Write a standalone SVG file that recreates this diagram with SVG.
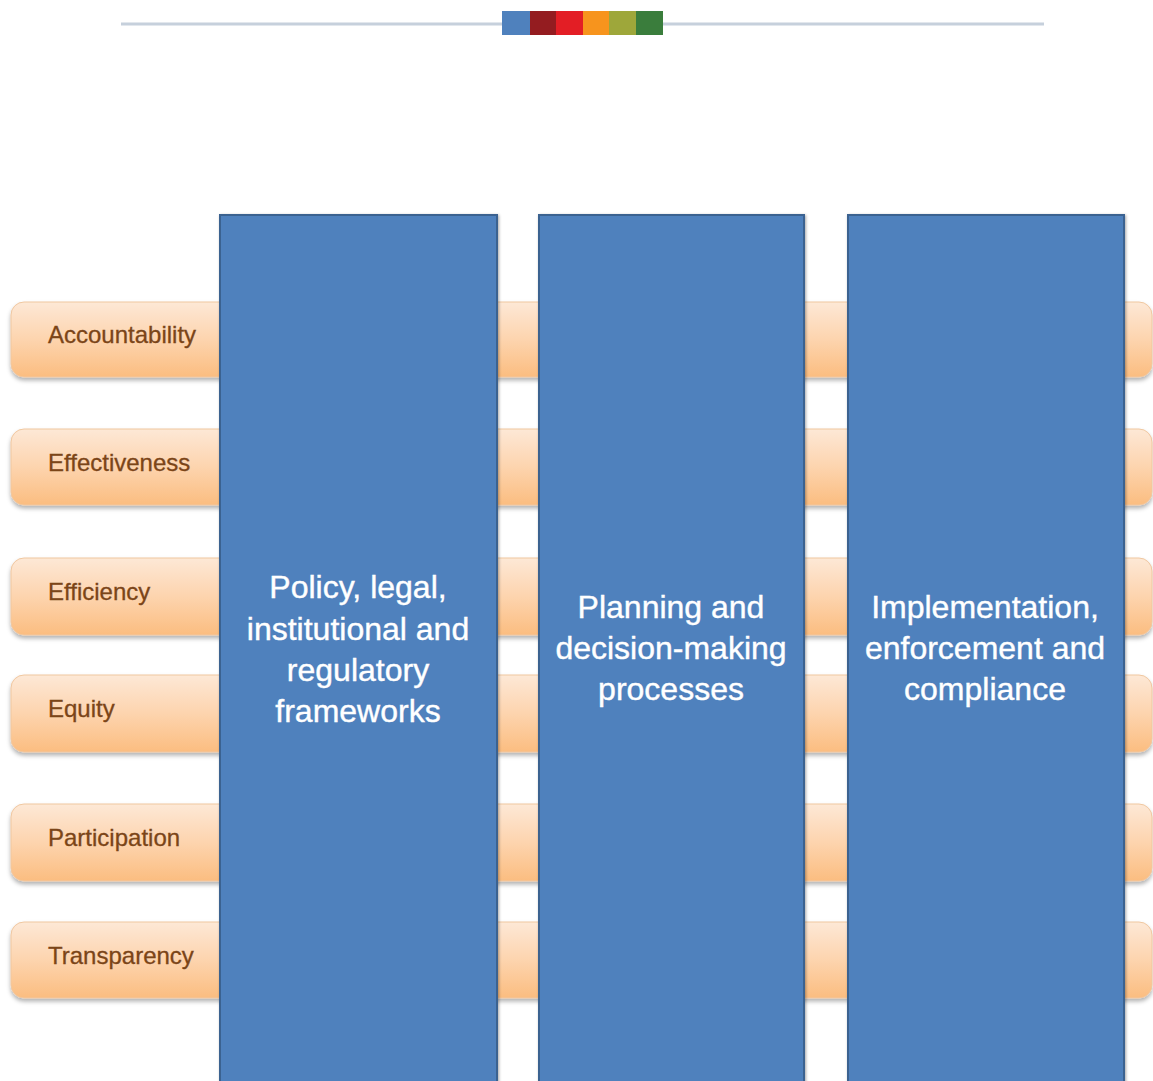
<svg xmlns="http://www.w3.org/2000/svg" width="1153" height="1081" viewBox="0 0 1153 1081">
<defs>
<linearGradient id="peach" x1="0" y1="0" x2="0" y2="1">
<stop offset="0" stop-color="#fde8d6"/>
<stop offset="0.5" stop-color="#fdd4ae"/>
<stop offset="1" stop-color="#fbbd80"/>
</linearGradient>
<filter id="sh" x="-5%" y="-20%" width="110%" height="150%">
<feGaussianBlur in="SourceAlpha" stdDeviation="2"/>
<feOffset dy="3" result="b"/>
<feFlood flood-color="#000" flood-opacity="0.3"/>
<feComposite in2="b" operator="in"/>
<feMerge><feMergeNode/><feMergeNode in="SourceGraphic"/></feMerge>
</filter>
<filter id="csh" x="-10%" y="-5%" width="120%" height="110%">
<feGaussianBlur in="SourceAlpha" stdDeviation="1.5"/>
<feOffset dx="1" dy="1" result="b"/>
<feFlood flood-color="#000" flood-opacity="0.35"/>
<feComposite in2="b" operator="in"/>
<feMerge><feMergeNode/><feMergeNode in="SourceGraphic"/></feMerge>
</filter>
</defs>
<style>
.band{fill:url(#peach);stroke:#f0c7a0;stroke-width:1;filter:url(#sh)}
.blab{font-family:"Liberation Sans",Arial,sans-serif;font-size:24px;fill:#7b4518;stroke:#7b4518;stroke-width:0.3}
.col{fill:#4f81bd;stroke:#3b6290;stroke-width:2;filter:url(#csh)}
.ctxt{font-family:"Liberation Sans",Arial,sans-serif;font-size:32px;fill:#ffffff;stroke:#ffffff;stroke-width:0.4;text-anchor:middle}
</style>
<rect width="1153" height="1081" fill="#ffffff"/>
<g id="header">
<line x1="121" y1="24" x2="1044" y2="24" stroke="#c6d0dc" stroke-width="3"/>
<rect x="502" y="11" width="28" height="24" fill="#4f81bd"/>
<rect x="530" y="11" width="26" height="24" fill="#941c20"/>
<rect x="556" y="11" width="27" height="24" fill="#e31e25"/>
<rect x="583" y="11" width="26" height="24" fill="#f7941d"/>
<rect x="609" y="11" width="27" height="24" fill="#9ea73a"/>
<rect x="636" y="11" width="27" height="24" fill="#3a7d3c"/>
</g>
<g id="band-accountability"><rect class="band" x="11" y="302" width="1141" height="75" rx="13"/><text class="blab" x="48" y="343">Accountability</text></g>
<g id="band-effectiveness"><rect class="band" x="11" y="429" width="1141" height="76" rx="13"/><text class="blab" x="48" y="471">Effectiveness</text></g>
<g id="band-efficiency"><rect class="band" x="11" y="558" width="1141" height="77" rx="13"/><text class="blab" x="48" y="600">Efficiency</text></g>
<g id="band-equity"><rect class="band" x="11" y="675" width="1141" height="77" rx="13"/><text class="blab" x="48" y="717">Equity</text></g>
<g id="band-participation"><rect class="band" x="11" y="804" width="1141" height="77" rx="13"/><text class="blab" x="48" y="846">Participation</text></g>
<g id="band-transparency"><rect class="band" x="11" y="922" width="1141" height="76" rx="13"/><text class="blab" x="48" y="964">Transparency</text></g>
<g id="col-policy"><rect class="col" x="220" y="215" width="277" height="880"/>
<text class="ctxt"><tspan x="358" y="598">Policy, legal,</tspan><tspan x="358" y="640">institutional and</tspan><tspan x="358" y="681">regulatory</tspan><tspan x="358" y="722">frameworks</tspan></text></g>
<g id="col-planning"><rect class="col" x="539" y="215" width="265" height="880"/>
<text class="ctxt"><tspan x="671" y="618">Planning and</tspan><tspan x="671" y="659">decision-making</tspan><tspan x="671" y="700">processes</tspan></text></g>
<g id="col-implementation"><rect class="col" x="848" y="215" width="276" height="880"/>
<text class="ctxt"><tspan x="985" y="618">Implementation,</tspan><tspan x="985" y="659">enforcement and</tspan><tspan x="985" y="700">compliance</tspan></text></g>
</svg>
